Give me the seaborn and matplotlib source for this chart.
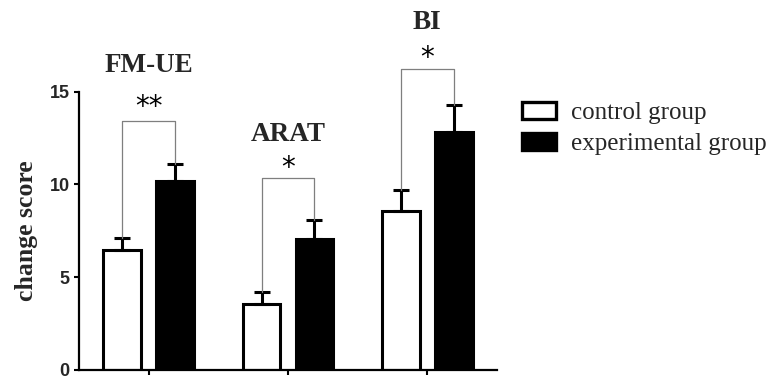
import matplotlib
matplotlib.use("Agg")
import matplotlib.pyplot as plt
import seaborn as sns
import pandas as pd
import numpy as np

# ---- data ----
measures = ["FM-UE", "ARAT", "BI"]
groups = ["control group", "experimental group"]
control_mean = [6.45, 3.57, 8.56]
control_err = [0.65, 0.66, 1.12]
experimental_mean = [10.18, 7.08, 12.85]
experimental_err = [0.90, 0.99, 1.45]
bracket_heights = [13.42, 10.36, 16.2]
star_labels = ["**", "*", "*"]
star_heights = [14.15, 10.9, 16.8]
title_heights = [16.39, 12.7, 18.74]
y_ticks = [0, 5, 10, 15]

sns.set_style("ticks")
plt.rcParams["font.family"] = ["Liberation Sans", "DejaVu Sans"]

df = pd.DataFrame({
    "measure": measures * 2,
    "group": [groups[0]] * 3 + [groups[1]] * 3,
    "score": control_mean + experimental_mean,
})

fig = plt.figure(figsize=(7.71, 3.78), dpi=100)
ax = fig.add_axes([79 / 771, 8 / 378, 418 / 771, (370 - 91.7) / 378])

sns.barplot(data=df, x="measure", y="score", hue="group", hue_order=groups,
            palette={groups[0]: "white", groups[1]: "black"},
            edgecolor="black", linewidth=2.2, width=0.76, gap=0.29,
            errorbar=None, ax=ax)

means = [control_mean, experimental_mean]
errs = [control_err, experimental_err]
tops_x = []
for ci, cont in enumerate(ax.containers[:2]):
    xs = [b.get_x() + b.get_width() / 2 for b in cont]
    tops_x.append(xs)
    ax.errorbar(xs, means[ci], yerr=[np.zeros(3), errs[ci]], fmt="none",
                ecolor="black", elinewidth=2.2, capsize=5.5, capthick=2.2,
                zorder=1)

# significance brackets
for i in range(3):
    xl, xr = tops_x[0][i], tops_x[1][i]
    yl = control_mean[i] + control_err[i]
    yr = experimental_mean[i] + experimental_err[i]
    h = bracket_heights[i]
    ax.plot([xl, xl, xr, xr], [yl, h, h, yr], color="#7f7f7f", lw=0.9,
            clip_on=False, zorder=3)
    ax.text((xl + xr) / 2, star_heights[i], star_labels[i], ha="center",
            va="center", fontsize=20, fontfamily="DejaVu Sans",
            clip_on=False, color="black")
    ax.text(i, title_heights[i], measures[i], ha="center", va="center",
            fontfamily="Liberation Serif", fontweight="bold", fontsize=19.5,
            clip_on=False)

ax.set_xlim(-0.5, 2.5)
ax.set_ylim(0, 15)
ax.set_yticks(y_ticks)
ax.set_yticklabels([str(t) for t in y_ticks], fontweight="bold", fontsize=13)
ax.set_xticks([0, 1, 2])
ax.set_xticklabels([])
ax.set_xlabel("")
ax.set_ylabel("change score", fontfamily="Liberation Serif",
              fontweight="bold", fontsize=18.5)
ax.yaxis.set_label_coords(-0.098, 0.5)
ax.tick_params(axis="both", direction="out", length=3.8, width=1.5,
               color="black", pad=3)
for s in ["top", "right"]:
    ax.spines[s].set_visible(False)
for s in ["left", "bottom"]:
    ax.spines[s].set_linewidth(1.6)
    ax.spines[s].set_color("black")

handles, labels = ax.get_legend_handles_labels()
ax.get_legend().remove()
for hnd in handles:
    hnd.set_linewidth(2.4)
    hnd.set_edgecolor("black")
fig.legend(handles, labels, loc="upper left",
           bbox_to_anchor=(522 / 771, 1 - 102 / 378), frameon=False,
           prop={"family": "Liberation Serif", "size": 18},
           handlelength=1.36, handleheight=0.68, handletextpad=0.6,
           labelspacing=0.33, borderpad=0, borderaxespad=0)

fig.savefig("out.png", dpi=100)
